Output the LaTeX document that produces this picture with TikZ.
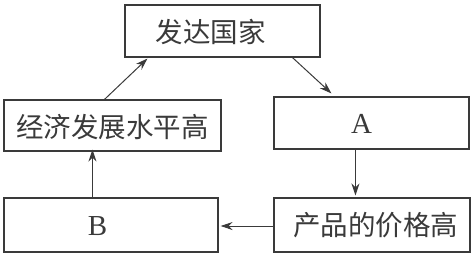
\documentclass[tikz,border=0pt]{standalone}
\usepackage{fontspec}
\setmainfont{Liberation Serif}
\newfontfamily\cjk{Noto Sans CJK SC}
\usetikzlibrary{arrows.meta}
\definecolor{ink}{HTML}{3A3A3A}
\tikzset{
  box/.style={draw=ink, line width=1.1pt, inner sep=0pt},
  cjktext/.style={font=\cjk\fontsize{27.5}{30}\selectfont, text=ink, inner sep=0pt},
  lattext/.style={font=\fontsize{29}{32}\selectfont, text=ink, inner sep=0pt},
  arr/.style={draw=ink, line width=1pt, -{Stealth[length=12pt,width=8pt]}}
}
\begin{document}
\begin{tikzpicture}[x=1pt,y=-1pt]
\useasboundingbox (0,0) rectangle (473,255);
\node[box, minimum width=195pt, minimum height=52pt] (top) at (222.5,31) {};
\node[box, minimum width=217pt, minimum height=51pt] (lft) at (112.5,125.5) {};
\node[box, minimum width=195pt, minimum height=52pt] (a) at (371.5,123) {};
\node[box, minimum width=214pt, minimum height=54pt] (b) at (111,225) {};
\node[box, minimum width=196pt, minimum height=54pt] (p) at (372,225) {};
\node[cjktext] (ttop) at (210.5,31.5) {发达国家};
\node[cjktext] (tlft) at (112.5,127) {经济发展水平高};
\node[lattext] (ta) at (361.5,124) {A};
\node[lattext] (tb) at (97.5,226) {B};
\node[cjktext] (tp) at (375.5,225.5) {产品的价格高};
\draw[arr] ([xshift=101pt]lft.north west) -- ([xshift=23pt,yshift=-1pt]top.south west);
\draw[arr] ([xshift=168pt]top.south west) -- ([xshift=58pt,yshift=3pt]a.north west);
\draw[arr] ([xshift=82pt]a.south west) -- ([xshift=82pt,yshift=2pt]p.north west);
\draw[arr] ([yshift=-1pt]p.west) -- ([xshift=2pt,yshift=-1pt]b.east);
\draw[arr] ([xshift=89pt]b.north west) -- ([xshift=89pt,yshift=2pt]lft.south west);
\end{tikzpicture}
\end{document}
